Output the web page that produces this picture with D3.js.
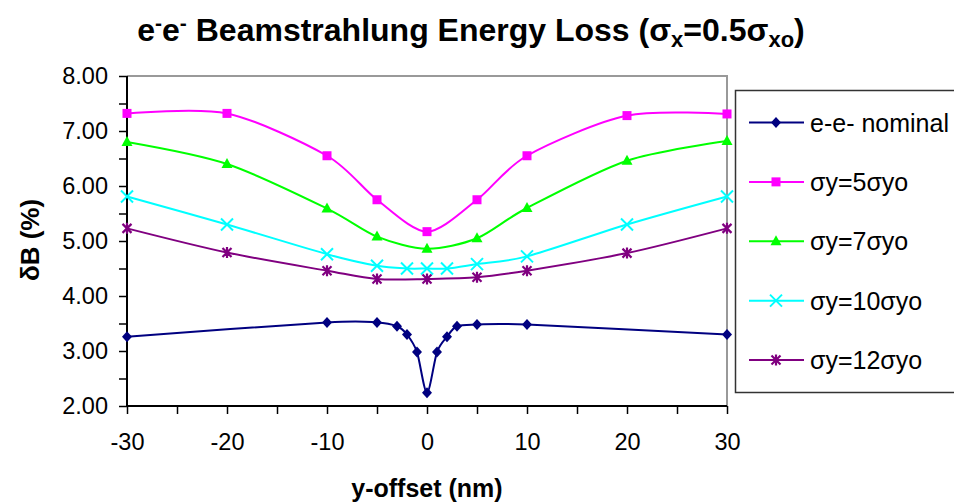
<!DOCTYPE html>
<html><head><meta charset="utf-8">
<script src="https://cdn.jsdelivr.net/npm/d3@7"></script>
<style>body{margin:0;background:#fff}svg{display:block;font-family:"Liberation Sans",Arial,sans-serif}</style>
</head><body><svg id="c" width="954" height="502"></svg>
<script>
// ---- data ----
const xNominal = [-30,-10,-5,-3,-2,-1,0,1,2,3,5,10,30];
const yNominal = [3.26,3.52,3.52,3.45,3.30,2.98,2.24,2.98,3.26,3.45,3.48,3.48,3.30];
const xSig5 = [-30,-20,-10,-5,0,5,10,20,30];
const ySig5 = [7.32,7.32,6.55,5.75,5.17,5.75,6.55,7.28,7.31];
const xSig7 = [-30,-20,-10,-5,0,5,10,20,30];
const ySig7 = [6.80,6.40,5.59,5.08,4.86,5.05,5.60,6.46,6.82];
const xSig10 = [-30,-20,-10,-5,-2,0,2,5,10,20,30];
const ySig10 = [5.81,5.30,4.76,4.55,4.50,4.50,4.50,4.58,4.72,5.30,5.81];
const xSig12 = [-30,-20,-10,-5,0,5,10,20,30];
const ySig12 = [5.23,4.79,4.46,4.31,4.31,4.34,4.46,4.78,5.23];
const seriesNames = ["e-e- nominal","σy=5σyo","σy=7σyo","σy=10σyo","σy=12σyo"];
const seriesColors = ["#000080","#FF00FF","#00FF00","#00FFFF","#800080"];
const seriesMarkers = ["diamond","square","triangle","x","star"];
const xTickValues = [-30,-20,-10,0,10,20,30];
const yTickValues = [2,3,4,5,6,7,8];

const series = [
  {x:xNominal,y:yNominal},{x:xSig5,y:ySig5},{x:xSig7,y:ySig7},{x:xSig10,y:ySig10},{x:xSig12,y:ySig12}
].map((s,i)=>({name:seriesNames[i],color:seriesColors[i],marker:seriesMarkers[i],
  pts:s.x.map((v,j)=>[v,s.y[j]])}));

const svg = d3.select("#c");
const L=127,R=727,T=76,B=406;
const x = d3.scaleLinear().domain([-30,30]).range([L,R]);
const y = d3.scaleLinear().domain([2,8]).range([B,T]);

// plot border (gray top/right)
svg.append("path").attr("d",`M${L},${T}H${R}V${B}`).attr("fill","none").attr("stroke","#999").attr("stroke-width",2);

// axes
const xAxis = d3.axisBottom(x).tickValues(d3.range(-30,31,5)).tickSize(8)
  .tickFormat(d=>xTickValues.includes(d)?String(d):"");
const gx = svg.append("g").attr("transform",`translate(0,${B})`).call(xAxis);
gx.select(".domain").attr("stroke","#000").attr("stroke-width",2).attr("d",`M${L},0H${R}`);
gx.selectAll(".tick line").attr("stroke","#000").attr("stroke-width",1.5);
gx.selectAll(".tick text").attr("font-size",23.5).attr("fill","#000").attr("y",27).attr("dy","0.71em").attr("font-family","Liberation Sans, Arial, sans-serif");

const yAxis = d3.axisLeft(y).tickValues(d3.range(2,8.01,0.5)).tickSize(8)
  .tickFormat(d=>yTickValues.includes(d)?d3.format(".2f")(d):"");
const gy = svg.append("g").attr("transform",`translate(${L},0)`).call(yAxis);
gy.select(".domain").attr("stroke","#000").attr("stroke-width",2).attr("d",`M0,${T}V${B}`);
gy.selectAll(".tick line").attr("stroke","#000").attr("stroke-width",1.5);
gy.selectAll(".tick text").attr("font-size",23.5).attr("fill","#000").attr("x",-19).attr("font-family","Liberation Sans, Arial, sans-serif");

// markers
function drawMarker(g,type,color){
  if(type==="diamond") g.append("path").attr("d","M0,-5.5L5,0L0,5.5L-5,0Z").attr("fill",color);
  else if(type==="square") g.append("rect").attr("x",-4.5).attr("y",-4.5).attr("width",9).attr("height",9).attr("fill",color);
  else if(type==="triangle") g.append("path").attr("d","M0,-6L5.5,4L-5.5,4Z").attr("fill",color);
  else if(type==="x") g.append("path").attr("d","M-6,-6L6,6M-6,6L6,-6").attr("stroke",color).attr("stroke-width",2);
  else if(type==="star") g.append("path").attr("d","M-4.5,-4.5L4.5,4.5M-4.5,4.5L4.5,-4.5M0,-5.5V5.5").attr("stroke",color).attr("stroke-width",2.2);
}

const line = d3.line().x(d=>x(d[0])).y(d=>y(d[1])).curve(d3.curveCardinal.tension(0.15));
series.forEach(s=>{
  svg.append("path").attr("d",line(s.pts)).attr("fill","none").attr("stroke",s.color).attr("stroke-width",2);
});
series.forEach(s=>{
  s.pts.forEach(p=>{
    const g = svg.append("g").attr("transform",`translate(${x(p[0])},${y(p[1])})`);
    drawMarker(g,s.marker,s.color);
  });
});

// legend
svg.append("rect").attr("x",735.5).attr("y",90.5).attr("width",240).attr("height",302)
  .attr("fill","#fff").attr("stroke","#333").attr("stroke-width",1.5);
const legY = d3.scalePoint().domain(seriesNames).range([122.5,360]);
series.forEach(s=>{
  const ly = legY(s.name);
  svg.append("line").attr("x1",749).attr("x2",804).attr("y1",ly).attr("y2",ly).attr("stroke",s.color).attr("stroke-width",2);
  drawMarker(svg.append("g").attr("transform",`translate(776,${ly})`),s.marker,s.color);
  svg.append("text").attr("x",810).attr("y",ly).attr("dy","0.36em").attr("font-size",25).text(s.name);
});

// title
const title = svg.append("text").attr("x",471).attr("y",41).attr("text-anchor","middle")
  .attr("font-size",32).attr("font-weight","bold");
title.append("tspan").text("e");
title.append("tspan").attr("dy",-11).attr("font-size",21).text("-");
title.append("tspan").attr("dy",11).text("e");
title.append("tspan").attr("dy",-11).attr("font-size",21).text("-");
title.append("tspan").attr("dy",11).text(" Beamstrahlung Energy Loss (σ");
title.append("tspan").attr("dy",6).attr("font-size",22).text("x");
title.append("tspan").attr("dy",-6).text("=0.5σ");
title.append("tspan").attr("dy",6).attr("font-size",22).text("xo");
title.append("tspan").attr("dy",-6).text(")");

// axis titles
svg.append("text").attr("x",427).attr("y",497).attr("text-anchor","middle").attr("font-size",25).attr("font-weight","bold").text("y-offset (nm)");
svg.append("text").attr("transform","translate(39,240) rotate(-90)").attr("text-anchor","middle").attr("font-size",26).attr("font-weight","bold").text("δB (%)");
</script></body></html>
